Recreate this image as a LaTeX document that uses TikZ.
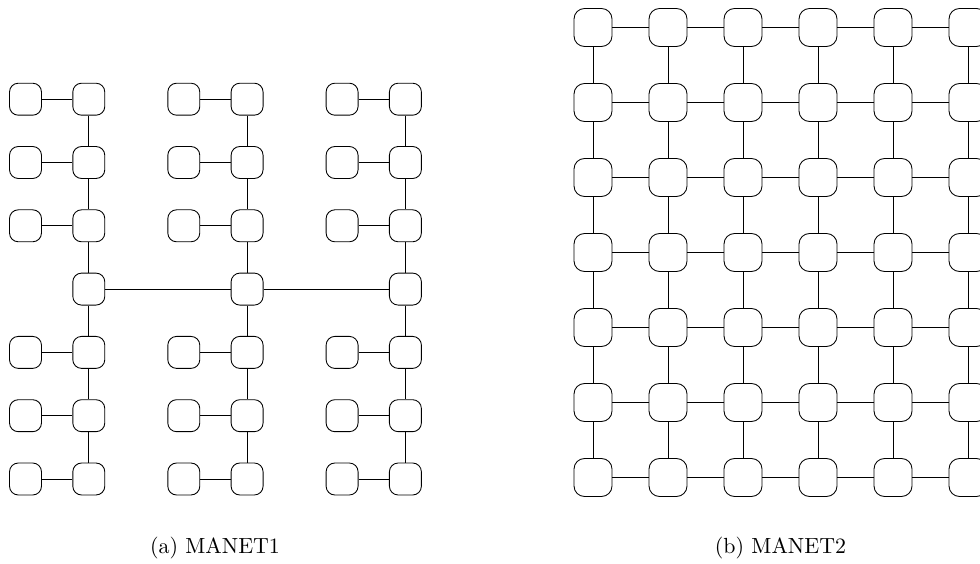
\documentclass[tikz,border=0pt]{standalone}
\begin{document}
\begin{tikzpicture}[x=0.4566pt,y=-0.4566pt,line width=0.4pt,
  lnode/.style={draw,rounded corners=4pt,minimum width=14.6pt,minimum height=14.6pt,inner sep=0pt},
  rnode/.style={draw,rounded corners=4.8pt,minimum width=17.35pt,minimum height=17.35pt,inner sep=0pt},
  captext/.style={inner sep=0pt,font=\normalsize}]
\useasboundingbox (0,0) rectangle (980,564);
\clip (0,0) rectangle (980,564);
% (a) MANET1
\foreach \b in {0,1,2} {
  \foreach \r in {1,...,7} {
    \node[lnode] (B\b-\r) at ({88.8+158.3*\b},{99.2+63.3*(\r-1)}) {};
  }
  \foreach \r in {1,2,3,5,6,7} {
    \node[lnode] (S\b-\r) at ({25.5+158.3*\b},{99.2+63.3*(\r-1)}) {};
    \draw (S\b-\r) -- (B\b-\r);
  }
  \foreach \r/\n in {1/2,2/3,3/4,4/5,5/6,6/7} {
    \draw (B\b-\r) -- (B\b-\n);
  }
}
\draw (B0-4) -- (B1-4);
\draw (B1-4) -- (B2-4);
% (b) MANET2
\foreach \i in {0,...,5} {
  \foreach \j in {0,...,6} {
    \node[rnode] (R\i-\j) at ({593+75*\i},{27.5+75*\j}) {};
  }
}
\foreach \i/\k in {0/1,1/2,2/3,3/4,4/5} {
  \foreach \j in {0,...,6} {
    \draw (R\i-\j) -- (R\k-\j);
  }
}
\foreach \j/\k in {0/1,1/2,2/3,3/4,4/5,5/6} {
  \foreach \i in {0,...,5} {
    \draw (R\i-\j) -- (R\i-\k);
  }
}
\node[captext] (capa) at (215,548) {(a) MANET1};
\node[captext] (capb) at (780.5,548) {(b) MANET2};
\end{tikzpicture}
\end{document}
